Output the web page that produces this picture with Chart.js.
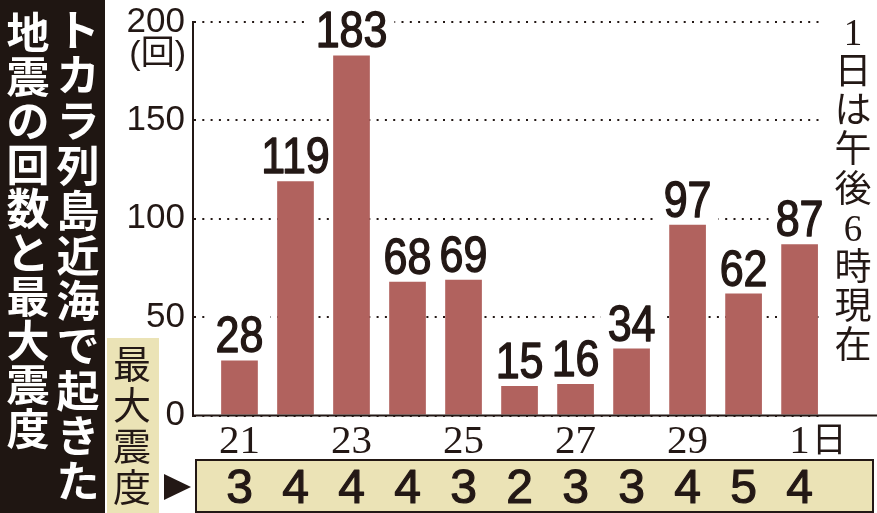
<!DOCTYPE html>
<html><head><meta charset="utf-8">
<script src="https://cdn.jsdelivr.net/npm/chart.js@4/dist/chart.umd.min.js"></script>
<style>html,body{margin:0;padding:0;background:#fff;}canvas{display:block;}</style>
</head><body>
<canvas id="c" width="877" height="513"></canvas>
<script>
const days = ['21','22','23','24','25','26','27','28','29','30','1'];
const counts = [28,119,183,68,69,15,16,34,97,62,87];
const maxIntensity = [3,4,4,4,3,2,3,3,4,5,4];
const xTickLabels = ['21','','23','','25','','27','','29','','1日'];
const yTickValues = [0,50,100,150,200];
const titleRight = 'トカラ列島近海で起きた';
const titleLeft = '地震の回数と最大震度';
const intensityLabel = '最大震度';
const noteText = '1日は午後6時現在';
const unitLabel = '(回)';

const INK = '#231815';
const BAR = '#b1625e';
const BEIGE = '#ebe3b6';
const PANEL = '#1f1612';

function vtext(ctx, str, cx, y0, step, font, color){
  ctx.save();
  ctx.font = font; ctx.fillStyle = color;
  ctx.textAlign = 'center'; ctx.textBaseline = 'middle';
  [...str].forEach((ch,i)=>ctx.fillText(ch, cx, y0 + i*step));
  ctx.restore();
}

const LABEL_FONT = "50px 'Liberation Sans'";
const LABEL_SX = 0.86;

const decor = {
  id: 'decor',
  beforeDatasetsDraw(chart){
    const ctx = chart.ctx;
    const meta = chart.getDatasetMeta(0);
    ctx.save();
    ctx.font = LABEL_FONT;
    meta.data.forEach((bar,i)=>{
      const t = String(counts[i]);
      const w = ctx.measureText(t).width * LABEL_SX;
      const base = bar.y - 8;
      ctx.fillStyle = '#fff';
      ctx.fillRect(bar.x - w/2 - 7, base - 41, w + 14, 45);
    });
    ctx.restore();
  },
  afterDatasetsDraw(chart){
    const ctx = chart.ctx;
    const meta = chart.getDatasetMeta(0);
    ctx.save();
    ctx.font = LABEL_FONT; ctx.fillStyle = INK; ctx.strokeStyle = INK;
    ctx.lineWidth = 1.4; ctx.lineJoin = 'round';
    ctx.textAlign = 'center'; ctx.textBaseline = 'alphabetic';
    meta.data.forEach((bar,i)=>{
      ctx.save();
      ctx.translate(bar.x, bar.y - 8);
      ctx.scale(LABEL_SX, 1);
      ctx.fillText(String(counts[i]), 0, 0);
      ctx.strokeText(String(counts[i]), 0, 0);
      ctx.restore();
    });
    ctx.restore();
  },
  afterDraw(chart){
    const ctx = chart.ctx;
    const xs = chart.scales.x, ys = chart.scales.y;
    const W = chart.width;
    ctx.save();
    const y0 = ys.getPixelForValue(0);
    ctx.strokeStyle = INK; ctx.lineWidth = 2;
    ctx.beginPath(); ctx.moveTo(xs.left - 1, y0); ctx.lineTo(W, y0); ctx.stroke();

    xTickLabels.forEach((lab,i)=>{
      if(!lab) return;
      const m = lab.match(/^(\d+)(.*)$/);
      const num = m ? m[1] : lab, suf = m ? m[2] : '';
      const px = xs.getPixelForValue(i);
      ctx.font = "41px 'Liberation Serif'"; ctx.fillStyle = INK;
      ctx.textAlign = 'center'; ctx.textBaseline = 'alphabetic';
      ctx.fillText(num, px, 453);
      if(suf){
        const nw = ctx.measureText(num).width;
        ctx.font = "35px 'Noto Sans CJK JP'";
        ctx.textAlign = 'left';
        ctx.fillText(suf, px + nw/2 + 2, 452);
      }
    });

    ctx.font = "34px 'Liberation Sans', 'Noto Sans CJK JP'";
    ctx.fillStyle = INK; ctx.textAlign = 'right'; ctx.textBaseline = 'middle';
    ctx.fillText(unitLabel, 186, 55);

    ctx.fillStyle = PANEL;
    ctx.fillRect(0, 0, 105, 513);
    vtext(ctx, titleRight, 78, 30, 45.1, "bold 43px 'Noto Sans CJK JP'", '#fff');
    vtext(ctx, titleLeft, 28, 33, 44, "bold 43px 'Noto Sans CJK JP'", '#fff');

    ctx.fillStyle = BEIGE;
    ctx.fillRect(107, 338, 52, 175);
    vtext(ctx, intensityLabel, 132, 364, 41, "38px 'Noto Sans CJK JP'", INK);

    ctx.fillStyle = INK;
    ctx.beginPath(); ctx.moveTo(164, 474); ctx.lineTo(191, 487); ctx.lineTo(164, 500); ctx.closePath(); ctx.fill();

    ctx.fillStyle = BEIGE;
    ctx.fillRect(196, 460, 677, 52);
    ctx.strokeStyle = INK; ctx.lineWidth = 2;
    ctx.strokeRect(196, 460, 677, 52);
    ctx.font = "48px 'Liberation Sans'"; ctx.fillStyle = INK;
    ctx.lineWidth = 1.2; ctx.lineJoin = 'round';
    ctx.textAlign = 'center'; ctx.textBaseline = 'alphabetic';
    maxIntensity.forEach((v,i)=>{
      const px = xs.getPixelForValue(i);
      ctx.fillText(String(v), px, 503);
      ctx.strokeText(String(v), px, 503);
    });

    vtext(ctx, noteText, 853, 35, 39.2, "37px 'Liberation Serif', 'Noto Sans CJK JP'", INK);
    ctx.restore();
  }
};

new Chart(document.getElementById('c'), {
  type: 'bar',
  data: {
    datasets: [{
      data: counts.map((v,i)=>({x:i, y:v})),
      backgroundColor: BAR,
      borderWidth: 0,
      categoryPercentage: 1,
      barPercentage: 0.655
    }]
  },
  options: {
    responsive: false,
    maintainAspectRatio: false,
    animation: false,
    events: [],
    layout: { padding: { left: 123, right: 55, top: 16, bottom: 97.5 } },
    plugins: { legend: { display: false }, tooltip: { enabled: false } },
    scales: {
      x: {
        type: 'linear', offset: false,
        min: -0.83, max: 10.4,
        ticks: { display: false },
        grid: { display: false },
        border: { display: false },
        afterFit(s){ s.height = 0; }
      },
      y: {
        min: 0, max: 200,
        afterBuildTicks(s){ s.ticks = yTickValues.map(v=>({value:v})); },
        ticks: {
          color: INK, padding: 8,
          font: { family: 'Liberation Sans', size: 35, lineHeight: 0.8 }
        },
        grid: { color: INK, lineWidth: 2, drawTicks: false },
        border: { display: true, color: INK, width: 2, dash: [2, 6.3] },
        afterFit(s){ s.width = 70; }
      }
    }
  },
  plugins: [decor]
});
</script>
</body></html>
